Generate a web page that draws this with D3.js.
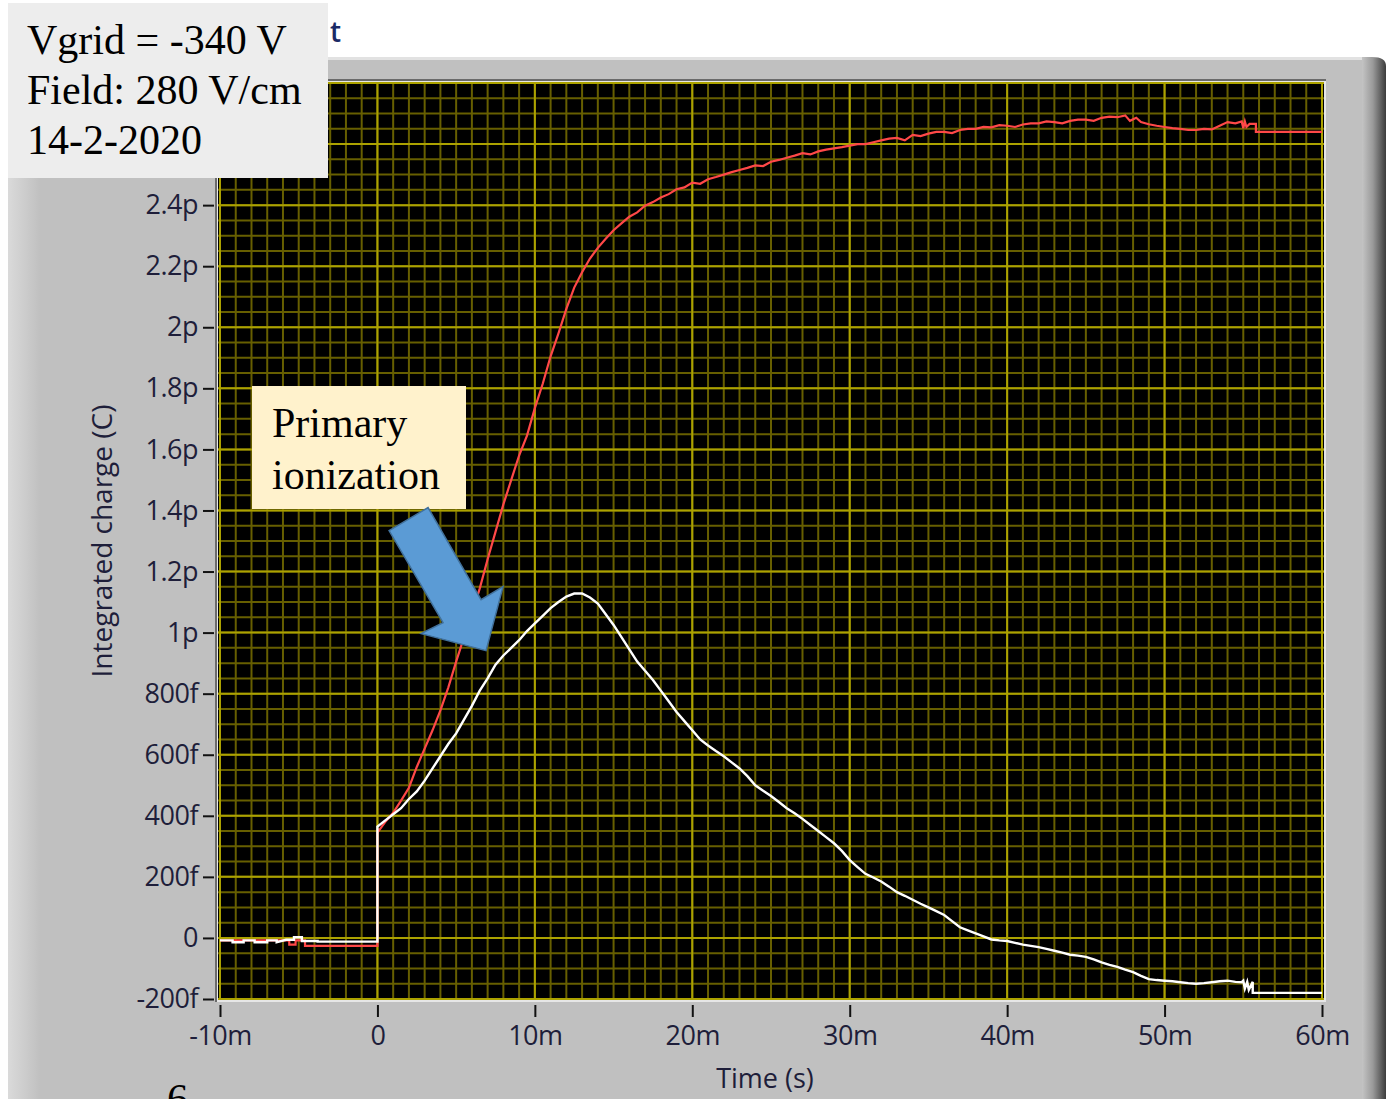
<!DOCTYPE html>
<html>
<head>
<meta charset="utf-8">
<script src="https://cdn.jsdelivr.net/npm/d3@7"></script>
<style>
  body { margin: 0; background: #ffffff; }
  svg { display: block; }
</style>
</head>
<body>
<script>
// Integrated charge trace (red), time in ms, charge in fC
const redTime = [-10, -5.6, -5.6, -5.2, -5.2, -4.6, -4.6,
  0, 0, 0.5, 1.0, 1.5, 2.0, 2.5, 3.0, 3.5, 4.0, 4.5, 5.0, 5.5, 6.0, 6.5, 7.0, 7.5, 8.0, 8.5, 9.0, 9.5,
  10.0, 10.5, 11.0, 11.5, 12.0, 12.5, 13.0, 13.5, 14.0, 14.5, 15.0, 15.5, 16.0, 16.5, 17.0, 17.5,
  18.0, 18.5, 19.0, 19.5, 20.0, 20.5, 21.0, 21.5, 22.0, 22.5, 23.0, 23.5, 24.0, 24.5, 25.0, 25.5,
  26.0, 26.5, 27.0, 27.5, 28.0, 28.5, 29.0, 29.5, 30.0, 30.5, 31.0, 31.5, 32.0, 32.5, 33.0, 33.5,
  34.0, 34.5, 35.0, 35.5, 36.0, 36.5, 37.0, 37.5, 38.0, 38.5, 39.0, 39.5, 40.0, 40.5, 41.0, 41.5,
  42.0, 42.5, 43.0, 43.5, 44.0, 44.5, 45.0, 45.5, 46.0, 46.5, 47.0, 47.5, 47.8, 48.2, 48.5, 49.0,
  49.5, 50.0, 50.5, 51.0, 51.5, 52.0, 52.5, 53.0, 53.5, 54.0, 54.5, 54.9, 55.0, 55.1, 55.2, 55.4, 55.8, 55.8, 60.0];
const redCharge = [-8, -8, -22, -22, -8, -8, -26,
  -26, 345, 380, 410, 450, 492, 560, 620, 680, 745, 820, 905, 985, 1060, 1145, 1240, 1330, 1420, 1500, 1580, 1645,
  1735, 1815, 1905, 1980, 2060, 2130, 2180, 2225, 2260, 2290, 2318, 2340, 2362, 2376, 2398, 2410,
  2425, 2436, 2452, 2458, 2474, 2470, 2485, 2492, 2500, 2508, 2515, 2522, 2530, 2528, 2542, 2548,
  2555, 2562, 2570, 2566, 2576, 2582, 2586, 2590, 2595, 2600, 2600, 2606, 2612, 2618, 2620, 2612,
  2630, 2626, 2634, 2640, 2640, 2636, 2646, 2650, 2650, 2656, 2655, 2662, 2660, 2656, 2664, 2668,
  2668, 2674, 2672, 2668, 2676, 2680, 2680, 2676, 2686, 2690, 2688, 2694, 2676, 2686, 2672, 2665,
  2660, 2656, 2652, 2650, 2646, 2646, 2650, 2648, 2660, 2672, 2668, 2674, 2652, 2674, 2656, 2666, 2666, 2640, 2640];

// Difference trace (white), time in ms, charge in fC
const whiteTime = [-10, -9.2, -9.2, -8.5, -8.5, -7.8, -7.8, -7.0, -7.0, -6.4, -6.4, -5.8, -5.3, -5.3, -4.8, -4.8, -3.8, -3.8,
  0, 0, 0.5, 1.0, 1.5, 2.0, 2.5, 3.0, 3.5, 4.0, 4.5, 5.0, 5.5, 6.0, 6.5, 7.0, 7.5, 8.0, 8.5, 9.0, 9.5,
  10.0, 10.5, 11.0, 11.5, 12.0, 12.5, 13.0, 13.5, 14.0, 14.5, 15.0, 15.5, 16.0, 16.5, 17.0, 17.5,
  18.0, 18.5, 19.0, 19.5, 20.0, 20.5, 21.0, 21.5, 22.0, 22.5, 23.0, 23.5, 24.0, 24.5, 25.0, 25.5,
  26.0, 26.5, 27.0, 27.5, 28.0, 28.5, 29.0, 29.5, 30.0, 30.5, 31.0, 31.5, 32.0, 32.5, 33.0, 33.5,
  34.0, 34.5, 35.0, 35.5, 36.0, 36.5, 37.0, 37.5, 38.0, 38.5, 39.0, 39.5, 40.0, 40.5, 41.0, 41.5,
  42.0, 42.5, 43.0, 43.5, 44.0, 44.5, 45.0, 45.5, 46.0, 46.5, 47.0, 47.5, 48.0, 48.5, 49.0, 49.5,
  50.0, 50.5, 51.0, 51.5, 52.0, 52.5, 53.0, 53.5, 54.0, 54.5, 54.9, 55.0, 55.1, 55.25, 55.35, 55.6, 55.6, 60.0];
const whiteCharge = [-8, -8, -14, -14, -8, -8, -14, -14, -8, -8, -14, -6, -6, 2, 2, -10, -10, -12,
  -12, 365, 385, 405, 425, 455, 480, 515, 555, 595, 635, 670, 715, 760, 810, 850, 895, 925, 950, 975, 1005,
  1030, 1055, 1080, 1100, 1118, 1128, 1128, 1115, 1095, 1060, 1025, 985, 945, 905, 875, 845,
  810, 775, 740, 710, 680, 650, 630, 612, 595, 575, 555, 530, 500, 482, 465, 445,
  425, 408, 390, 370, 350, 330, 310, 285, 255, 232, 210, 198, 185, 168, 150, 138,
  125, 112, 100, 88, 75, 55, 35, 25, 15, 5, -5, -8, -10, -16, -22, -26,
  -30, -36, -42, -48, -55, -58, -62, -70, -80, -88, -95, -104, -112, -124, -135, -138,
  -140, -142, -145, -148, -150, -148, -145, -142, -140, -144, -145, -140, -166, -144, -170, -144, -180, -180];

// Axis ticks (ms and fC) and their engineering-notation labels
const xTickValues = [-10, 0, 10, 20, 30, 40, 50, 60];
const xTickLabels = ["-10m", "0", "10m", "20m", "30m", "40m", "50m", "60m"];
const yTickValues = [-200, 0, 200, 400, 600, 800, 1000, 1200, 1400, 1600, 1800, 2000, 2200, 2400];
const yTickLabels = ["-200f", "0", "200f", "400f", "600f", "800f", "1p", "1.2p", "1.4p", "1.6p", "1.8p", "2p", "2.2p", "2.4p"];
const yGridValues = [-200, 0, 200, 400, 600, 800, 1000, 1200, 1400, 1600, 1800, 2000, 2200, 2400, 2600, 2800];

// Annotation text
const infoLines = ["Vgrid = -340 V", "Field: 280 V/cm", "14-2-2020"];
const calloutLines = ["Primary", "ionization"];

const W = 1386, H = 1099;
const svg = d3.select("body").append("svg").attr("width", W).attr("height", H);

const defs = svg.append("defs");
const leftGrad = defs.append("linearGradient").attr("id", "leftEdge").attr("x1", 0).attr("x2", 1);
leftGrad.append("stop").attr("offset", 0).attr("stop-color", "#dadada");
leftGrad.append("stop").attr("offset", 1).attr("stop-color", "#c0c0c0");
const rightGrad = defs.append("linearGradient").attr("id", "rightEdge").attr("x1", 0).attr("x2", 1);
rightGrad.append("stop").attr("offset", 0).attr("stop-color", "#c4c4c4");
rightGrad.append("stop").attr("offset", 0.45).attr("stop-color", "#9a9a9a");
rightGrad.append("stop").attr("offset", 1).attr("stop-color", "#3c3c3c");

// Front panel label of the chart
svg.append("text").attr("x", 344).attr("y", 42).attr("text-anchor", "end")
  .attr("font-family", "'Open Sans', 'Noto Sans', sans-serif").attr("font-size", 28).attr("font-weight", 600)
  .attr("letter-spacing", 3).attr("fill", "#1b2a66").text("Waveform Chart");

// Gray chart frame
svg.append("rect").attr("x", 8).attr("y", 57).attr("width", 1356).attr("height", H - 57).attr("fill", "#c0c0c0");
svg.append("rect").attr("x", 8).attr("y", 57).attr("width", 1356).attr("height", 3).attr("fill", "#e2e2e2");
svg.append("rect").attr("x", 8).attr("y", 60).attr("width", 32).attr("height", H - 60).attr("fill", "url(#leftEdge)");
svg.append("path").attr("d", "M1362,57 L1372,57 Q1386,57 1386,66 L1386,1099 L1362,1099 Z").attr("fill", "url(#rightEdge)");

// Scales
const x = d3.scaleLinear().domain([-10, 60]).range([220, 1322]);
const y = d3.scaleLinear().domain([-200, 2800]).range([999, 83]);
const plotL = 218, plotR = 1324, plotT = 82, plotB = 1000;

// Sunken plot border
svg.append("rect").attr("x", plotL - 2).attr("y", plotT - 2).attr("width", plotR - plotL + 4).attr("height", plotB - plotT + 4).attr("fill", "#e6e6e6");
svg.append("path").attr("d", `M${plotL - 2},${plotB + 2} L${plotL - 2},${plotT - 2} L${plotR + 2},${plotT - 2}`)
  .attr("fill", "none").attr("stroke", "#6a6a6a").attr("stroke-width", 2);
svg.append("rect").attr("x", plotL).attr("y", plotT).attr("width", plotR - plotL).attr("height", plotB - plotT).attr("fill", "#000");

const plot = svg.append("g");
plot.append("clipPath").attr("id", "plotClip").append("rect")
  .attr("x", plotL).attr("y", plotT).attr("width", plotR - plotL).attr("height", plotB - plotT);
const grid = plot.append("g").attr("clip-path", "url(#plotClip)");

// Minor grid: 1 ms and 50 fC
grid.append("g").selectAll("line").data(d3.range(-10, 61, 1)).join("line")
  .attr("x1", d => x(d)).attr("x2", d => x(d)).attr("y1", plotT).attr("y2", plotB)
  .attr("stroke", "#675f00").attr("stroke-width", 2);
grid.append("g").selectAll("line").data(d3.range(-200, 2801, 50)).join("line")
  .attr("x1", plotL).attr("x2", plotR).attr("y1", d => y(d)).attr("y2", d => y(d))
  .attr("stroke", "#675f00").attr("stroke-width", 2);
// Major grid on the labelled ticks
grid.append("g").selectAll("line").data(xTickValues).join("line")
  .attr("x1", d => x(d)).attr("x2", d => x(d)).attr("y1", plotT).attr("y2", plotB)
  .attr("stroke", "#aca200").attr("stroke-width", 2);
grid.append("g").selectAll("line").data(yGridValues).join("line")
  .attr("x1", plotL).attr("x2", plotR).attr("y1", d => y(d)).attr("y2", d => y(d))
  .attr("stroke", "#aca200").attr("stroke-width", 2);

// Traces
const line = d3.line().x(d => x(d[0])).y(d => y(d[1]));
const redData = d3.zip(redTime, redCharge);
const whiteData = d3.zip(whiteTime, whiteCharge);
grid.append("path").datum(redData).attr("d", line)
  .attr("fill", "none").attr("stroke", "#ff4848").attr("stroke-width", 2.2).attr("stroke-linejoin", "miter");
grid.append("path").datum(whiteData).attr("d", line)
  .attr("fill", "none").attr("stroke", "#ffffff").attr("stroke-width", 2.4).attr("stroke-linejoin", "miter");

// Axes
const tickFont = "'Open Sans', 'Noto Sans', sans-serif";
const xAxis = d3.axisBottom(x).tickValues(xTickValues).tickSize(12).tickPadding(9)
  .tickFormat((d, i) => xTickLabels[i]);
const gx = svg.append("g").attr("transform", `translate(0,${plotB + 5})`).call(xAxis);
gx.select(".domain").remove();
gx.selectAll(".tick line").attr("stroke", "#111").attr("stroke-width", 2);
gx.selectAll(".tick text").attr("font-family", tickFont).attr("font-size", 27).attr("fill", "#1e1e3a")
  .attr("letter-spacing", -0.5);

const yAxis = d3.axisLeft(y).tickValues(yTickValues).tickSize(11).tickPadding(5)
  .tickFormat((d, i) => yTickLabels[i]);
const gy = svg.append("g").attr("transform", `translate(${plotL - 4},0)`).call(yAxis);
gy.select(".domain").remove();
gy.selectAll(".tick line").attr("stroke", "#111").attr("stroke-width", 2);
gy.selectAll(".tick text").attr("font-family", tickFont).attr("font-size", 27).attr("fill", "#1e1e3a")
  .attr("letter-spacing", -0.5);

svg.append("text").attr("x", 765).attr("y", 1088).attr("text-anchor", "middle")
  .attr("font-family", tickFont).attr("font-size", 27).attr("fill", "#1e1e3a").text("Time (s)");
svg.append("text").attr("transform", "translate(112,541) rotate(-90)").attr("text-anchor", "middle")
  .attr("font-family", tickFont).attr("font-size", 28).attr("fill", "#1e1e3a").text("Integrated charge (C)");

// Run conditions box
svg.append("rect").attr("x", 8).attr("y", 3).attr("width", 320).attr("height", 175).attr("fill", "#ededed");
svg.append("g").selectAll("text").data(infoLines).join("text")
  .attr("x", 27).attr("y", (d, i) => 54 + i * 50)
  .attr("font-family", "'Liberation Serif', 'Times New Roman', serif").attr("font-size", 42)
  .attr("fill", "#000").text(d => d);

// Callout box and arrow
svg.append("rect").attr("x", 252).attr("y", 386).attr("width", 214).attr("height", 123).attr("fill", "#fff2cc");
svg.append("g").selectAll("text").data(calloutLines).join("text")
  .attr("x", 272).attr("y", (d, i) => 437 + i * 52)
  .attr("font-family", "'Liberation Serif', 'Times New Roman', serif").attr("font-size", 42)
  .attr("fill", "#000").text(d => d);

const tip = [x(6.9), y(941)];
const arrowShape = [[-97, -120], [-58, -143], [-5, -51], [17, -64], [0, 0], [-65, -17], [-43, -28]];
svg.append("polygon")
  .attr("points", arrowShape.map(p => [tip[0] + p[0], tip[1] + p[1]].join(",")).join(" "))
  .attr("fill", "#5b9bd5").attr("stroke", "#41719c").attr("stroke-width", 1.5).attr("stroke-linejoin", "miter");

// Page number peeking in at the bottom
svg.append("text").attr("x", 167).attr("y", 1113)
  .attr("font-family", "'Liberation Serif', 'Times New Roman', serif").attr("font-size", 42)
  .attr("fill", "#000").text("6");
</script>
</body>
</html>
